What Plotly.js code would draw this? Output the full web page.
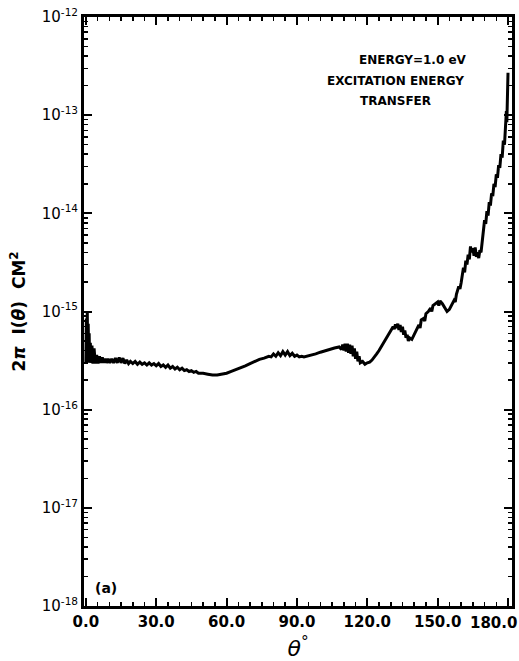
<!DOCTYPE html>
<html>
<head>
<meta charset="utf-8">
<script src="https://cdn.plot.ly/plotly-3.0.1.min.js"></script>
<style>
  html, body { margin: 0; padding: 0; background: #fff; }
  #plot { width: 519px; height: 661px; }
</style>
</head>
<body>
<div id="plot"></div>
<script>
// Scattering angle (degrees)
const theta = [
  0.0, 0.2, 0.4, 0.6, 0.8, 1.0, 1.2, 1.4, 1.6, 1.9, 2.2, 2.6, 3.0, 3.5, 4.0, 4.6, 5.2, 5.8, 6.4, 7.0,
  7.6, 8.2, 8.8, 9.5, 10.2, 11.0, 11.8, 12.6, 13.4, 14.2, 15.0, 15.8, 16.6, 17.4, 18.2, 19.0, 20.0, 21.0, 22.0, 23.0,
  24.0, 25.0, 26.0, 27.0, 28.0, 29.0, 30.0, 31.0, 32.0, 33.0, 34.0, 35.0, 36.0, 37.0, 38.0, 39.0, 40.0, 41.0, 42.0, 43.0,
  44.0, 45.0, 46.0, 47.0, 48.0, 50.0, 52.0, 54.0, 56.0, 58.0, 60.0, 62.0, 64.0, 66.0, 68.0, 70.0, 72.0, 74.0, 76.0, 78.0,
  79.0, 80.0, 81.0, 82.0, 83.0, 84.0, 85.0, 86.0, 87.0, 88.0, 89.0, 90.0, 91.0, 92.0, 93.0, 94.0, 96.0, 98.0, 100.0, 102.0,
  104.0, 106.0, 108.0, 109.0, 109.5, 110.0, 110.5, 111.0, 111.5, 112.0, 112.5, 113.0, 113.5, 114.0, 114.5, 115.0, 115.5, 116.0, 116.5, 117.0,
  118.0, 119.0, 120.0, 121.0, 122.0, 123.0, 124.0, 125.0, 126.0, 127.0, 128.0, 129.0, 130.0, 131.0, 131.5, 132.0, 132.5, 133.0, 133.5, 134.0,
  134.5, 135.0, 135.5, 136.0, 136.5, 137.0, 137.5, 138.0, 139.0, 140.0, 141.0, 142.0, 142.5, 143.0, 144.0, 144.5, 145.0, 146.0, 147.0, 147.5,
  148.0, 149.0, 150.0, 150.5, 151.0, 152.0, 153.0, 153.5, 154.0, 155.0, 156.0, 157.0, 157.5, 158.0, 159.0, 159.5, 160.0, 161.0, 161.5, 162.0,
  162.5, 163.0, 163.5, 164.0, 164.5, 165.0, 165.5, 166.0, 166.5, 167.0, 167.5, 168.0, 168.5, 169.0, 170.0, 170.5, 171.0, 171.5, 172.0, 172.5,
  173.0, 173.5, 174.0, 174.5, 175.0, 175.5, 176.0, 176.5, 177.0, 177.5, 178.0, 178.5, 179.0, 179.3, 179.5, 179.7, 179.85, 180.0
];

// 2*pi*I(theta) in units of 1e-16 cm^2
const sigmaE16 = [
  3.0, 8.5, 3.2, 10.0, 3.1, 7.5, 3.0, 6.0, 3.0, 4.8, 3.0, 4.5, 2.95, 4.2, 2.95, 3.6, 2.95, 3.5, 3.0, 3.4,
  3.0, 3.3, 3.0, 3.3, 3.0, 3.3, 3.0, 3.35, 3.0, 3.4, 3.0, 3.35, 2.95, 3.2, 2.95, 3.1, 2.95, 3.1, 2.9, 3.05,
  2.9, 3.0, 2.85, 3.0, 2.85, 2.95, 2.8, 2.95, 2.75, 2.85, 2.7, 2.85, 2.65, 2.75, 2.6, 2.7, 2.55, 2.65, 2.5, 2.55,
  2.45, 2.5, 2.4, 2.45, 2.35, 2.35, 2.3, 2.25, 2.25, 2.3, 2.35, 2.45, 2.55, 2.65, 2.8, 2.95, 3.1, 3.25, 3.35, 3.5,
  3.45, 3.7, 3.5, 3.8, 3.55, 3.9, 3.6, 3.9, 3.55, 3.75, 3.5, 3.6, 3.45, 3.5, 3.45, 3.5, 3.55, 3.7, 3.85, 4.0,
  4.15, 4.25, 4.35, 4.1, 4.6, 4.0, 4.7, 3.9, 4.7, 3.8, 4.6, 3.7, 4.5, 3.5, 4.2, 3.3, 3.9, 3.1, 3.5, 3.0,
  3.1, 2.9, 3.0, 3.05, 3.2, 3.4, 3.7, 4.0, 4.4, 4.9, 5.4, 5.9, 6.5, 7.0, 6.6, 7.4, 6.8, 7.5, 6.5, 7.3,
  6.2, 7.0, 5.8, 6.4, 5.4, 5.8, 5.0, 5.4, 5.2, 5.8, 6.5, 7.3, 6.8, 8.2, 8.5, 8.0, 9.5, 10.0, 10.8, 10.0,
  11.5, 12.0, 12.5, 11.5, 12.8, 12.0, 11.0, 10.2, 10.0, 10.5, 11.5, 13.0, 12.5, 15.0, 18.0, 17.0, 19.5, 28.0, 25.0, 33.0,
  30.0, 38.0, 34.0, 46.0, 40.0, 44.0, 37.0, 45.0, 36.0, 40.0, 35.0, 42.0, 40.0, 55.0, 85.0, 78.0, 105.0, 95.0, 130.0, 120.0,
  160.0, 150.0, 200.0, 185.0, 250.0, 230.0, 310.0, 290.0, 400.0, 370.0, 550.0, 500.0, 800.0, 1100.0, 850.0, 1400.0, 1000.0, 2700.0
];

const crossSection = sigmaE16.map(v => v * 1e-16);

const xTickVals = [0, 30, 60, 90, 120, 150, 180];
const xTickText = ['0.0', '30.0', '60.0', '90.0', '120.0', '150.0', '180.0'];
const yTickVals = [1e-18, 1e-17, 1e-16, 1e-15, 1e-14, 1e-13, 1e-12];
const yTickText = ['10<sup>-18</sup>', '10<sup>-17</sup>', '10<sup>-16</sup>', '10<sup>-15</sup>',
                   '10<sup>-14</sup>', '10<sup>-13</sup>', '10<sup>-12</sup>'];

// minor log ticks: 2..9 in every decade
const yMinor = [];
for (let e = -18; e < -12; e++) {
  for (let m = 2; m <= 9; m++) yMinor.push(m * Math.pow(10, e));
}

const FONT = 'DejaVu Sans, Arial, sans-serif';
const TICKFONT = { family: FONT, size: 15, color: '#000', weight: 'bold' };

// the last x label would run past the page edge, so it is drawn as an
// annotation pinned to its tick and nudged left; the others are axis labels
const lastX = xTickVals[xTickVals.length - 1];
const axisTickText = xTickText.map((t, i) => (i === xTickText.length - 1 ? '' : t));

const trace = {
  x: theta,
  y: crossSection,
  type: 'scatter',
  mode: 'lines',
  line: { color: '#000', width: 3 },
  hoverinfo: 'skip'
};

const W = 519, H = 661, L = 84, R = 7, T = 17, B = 55;
const px = x => (x - L) / (W - L - R);
const py = y => (H - B - y) / (H - T - B);

const layout = {
  width: W,
  height: H,
  margin: { l: L, r: R, t: T, b: B },
  paper_bgcolor: '#fff',
  plot_bgcolor: '#fff',
  showlegend: false,
  font: { family: FONT, color: '#000' },
  xaxis: {
    range: [-0.8, 181.7],
    tickmode: 'array',
    tickvals: xTickVals,
    ticktext: axisTickText,
    ticks: 'inside',
    ticklen: 8,
    tickwidth: 2,
    tickcolor: '#000',
    showline: true,
    linewidth: 3,
    linecolor: '#000',
    mirror: 'ticks',
    showgrid: false,
    zeroline: false,
    tickfont: TICKFONT,
    minor: { ticks: 'inside', dtick: 5, ticklen: 4, tickwidth: 1.5, tickcolor: '#000', showgrid: false },
    title: { text: '<i>θ</i><sup>°</sup>', font: { family: FONT, size: 22, color: '#000' }, standoff: 16 }
  },
  yaxis: {
    type: 'log',
    range: [-18, -12],
    tickmode: 'array',
    tickvals: yTickVals,
    ticktext: yTickText,
    ticks: 'inside',
    ticklen: 8,
    tickwidth: 2,
    tickcolor: '#000',
    showline: true,
    linewidth: 3,
    linecolor: '#000',
    mirror: 'ticks',
    showgrid: false,
    zeroline: false,
    tickfont: { family: FONT, size: 15, color: '#000' },
    minor: { tickmode: 'array', tickvals: yMinor, ticks: 'inside', ticklen: 4, tickwidth: 1.5, tickcolor: '#000', showgrid: false },
    title: { text: '2<i>π</i>  I(<i>θ</i>)  CM<sup>2</sup>', font: { family: FONT, size: 17, color: '#000', weight: 'bold' }, standoff: 12 }
  },
  annotations: [
    { text: xTickText[xTickText.length - 1], xref: 'x', yref: 'paper', x: lastX, y: 0,
      xanchor: 'center', yanchor: 'top', xshift: -15, yshift: -6, showarrow: false,
      font: TICKFONT },
    { text: 'ENERGY=1.0 eV', xref: 'paper', yref: 'paper', x: px(357), y: py(60),
      xanchor: 'left', yanchor: 'middle', showarrow: false,
      font: { family: FONT, size: 12, color: '#000', weight: 'bold' } },
    { text: 'EXCITATION ENERGY', xref: 'paper', yref: 'paper', x: px(325), y: py(81),
      xanchor: 'left', yanchor: 'middle', showarrow: false,
      font: { family: FONT, size: 12, color: '#000', weight: 'bold' } },
    { text: 'TRANSFER', xref: 'paper', yref: 'paper', x: px(358), y: py(101),
      xanchor: 'left', yanchor: 'middle', showarrow: false,
      font: { family: FONT, size: 12, color: '#000', weight: 'bold' } },
    { text: '(a)', xref: 'paper', yref: 'paper', x: px(93), y: py(588),
      xanchor: 'left', yanchor: 'middle', showarrow: false,
      font: { family: FONT, size: 14, color: '#000', weight: 'bold' } }
  ]
};

Plotly.newPlot('plot', [trace], layout, { staticPlot: true, displayModeBar: false });
</script>
</body>
</html>
